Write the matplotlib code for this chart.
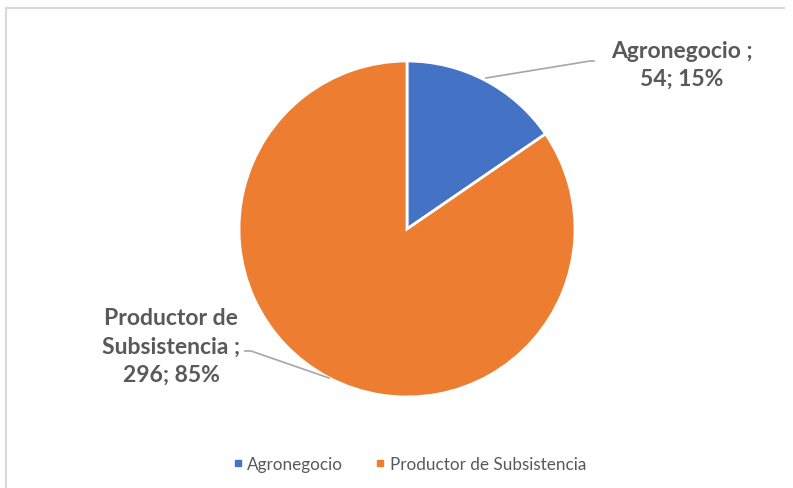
import matplotlib
matplotlib.use("Agg")
import matplotlib.pyplot as plt
from matplotlib.lines import Line2D

categories = ["Agronegocio", "Productor de Subsistencia"]
values = [54, 296]
colors = ["#4472C4", "#ED7D31"]
label_texts = ["Agronegocio ;", "Productor de\nSubsistencia ;"]

W, H = 793, 489
fig = plt.figure(figsize=(W / 100, H / 100), dpi=100)
ax = fig.add_axes([0, 0, 1, 1])
ax.set_xlim(0, W)
ax.set_ylim(0, H)
ax.set_aspect("equal")
ax.axis("off")

def Y(y):
    return H - y

cx, cy, r = 407, 230, 168
ax.pie(values, colors=colors, startangle=90, counterclock=False,
       center=(cx, Y(cy)), radius=r, frame=True,
       wedgeprops=dict(edgecolor="white", linewidth=2))
ax.set_xlim(0, W)
ax.set_ylim(0, H)
ax.axis("off")

total = sum(values)
txtcol = "#595959"
font = "Lato"
lbl = [f"{label_texts[i]}\n{values[i]}; {round(100 * values[i] / total)}%" for i in range(2)]

ax.text(682, Y(65), lbl[0], ha="center", va="center", fontsize=16.5,
        fontweight="bold", color=txtcol, family=font, linespacing=1.4)
ax.text(171, Y(347), lbl[1], ha="center", va="center", fontsize=16.5,
        fontweight="bold", color=txtcol, family=font, linespacing=1.45)

lc = "#A6A6A6"
ax.plot([486, 590, 594], [Y(79), Y(62), Y(62)], color=lc, lw=1.2)
ax.plot([245, 251, 329], [Y(352), Y(352), Y(379)], color=lc, lw=1.2)

# chart frame (top and left edges visible)
ax.plot([6, 784], [Y(9), Y(9)], color="#D9D9D9", lw=1.5)
ax.plot([6, 6], [Y(9), Y(489)], color="#D9D9D9", lw=1.5)

handles = [Line2D([], [], marker="s", linestyle="none", markersize=5,
                  markerfacecolor=c, markeredgecolor=c) for c in colors]
fig.legend(handles, categories, loc="center", bbox_to_anchor=(409 / W, 1 - 465 / H),
           ncol=2, frameon=False, handletextpad=0.2, columnspacing=1.8,
           handlelength=0.7, prop=dict(family=font, size=12.3), labelcolor=txtcol)

fig.savefig("out.png", dpi=100)
